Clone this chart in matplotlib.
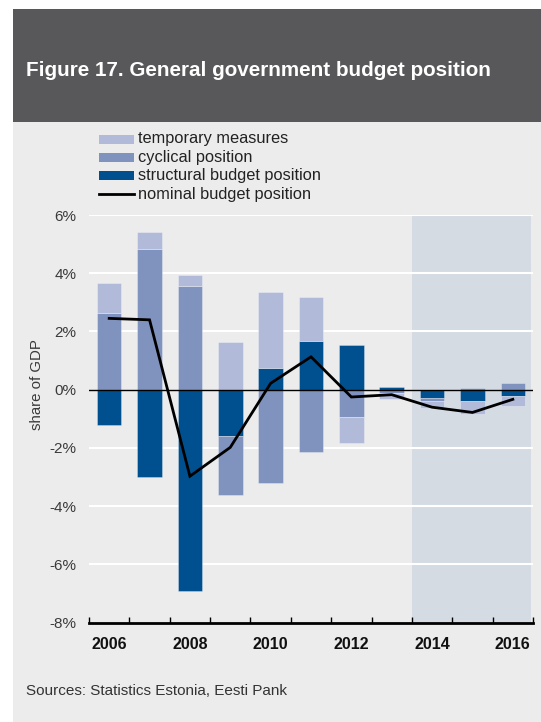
import numpy as np
import matplotlib
matplotlib.use('Agg')
import matplotlib.pyplot as plt
from matplotlib.patches import Rectangle
from matplotlib.lines import Line2D

plt.rcParams['font.family'] = ['Liberation Sans', 'DejaVu Sans']

years = [2006, 2007, 2008, 2009, 2010, 2011, 2012, 2013, 2014, 2015, 2016]
structural = [-1.20, -3.00, -6.90, -1.60, 0.75, 1.67, 1.55, 0.09, -0.30, -0.37, -0.23]
cyclical = [2.62, 4.84, 3.57, -2.00, -3.20, -2.13, -0.94, -0.10, -0.07, 0.06, 0.23]
temporary = [1.05, 0.56, 0.37, 1.63, 2.60, 1.51, -0.89, -0.23, -0.25, -0.46, -0.33]
nominal = [2.45, 2.40, -2.97, -1.98, 0.22, 1.13, -0.25, -0.17, -0.60, -0.78, -0.33]
forecast_from = 2014
year_labels = ['2006', '2008', '2010', '2012', '2014', '2016']
y_ticks = [-8, -6, -4, -2, 0, 2, 4, 6]

c_temp = '#b1bbd9'
c_cyc = '#8092be'
c_struct = '#00508f'
header_col = '#58585a'
panel_col = '#ebeceb'
shade_col = '#d4dbe3'

W, H = 541, 722
fig = plt.figure(figsize=(W / 100, H / 100), dpi=100)
fig.patch.set_facecolor('white')

# background panels
fig.add_artist(Rectangle((13 / W, 0), 1 - 13 / W, 1 - 122 / H, transform=fig.transFigure,
                         facecolor=panel_col, edgecolor='none', zorder=-2))
fig.add_artist(Rectangle((13 / W, 1 - 122 / H), 1 - 13 / W, 113 / H, transform=fig.transFigure,
                         facecolor=header_col, edgecolor='none', zorder=-2))
fig.text(26 / W, 1 - 70 / H, 'Figure 17. General government budget position', color='white',
         fontsize=14.9, fontweight='bold', va='center', ha='left')

ax = fig.add_axes([89 / W, 1 - 622.7 / H, 444 / W, 407.7 / H])
ax.set_facecolor('none')

x = np.arange(len(years))
ax.set_xlim(-0.5, len(years) - 0.5)
ax.set_ylim(-8, 6)

# forecast shading
fx = years.index(forecast_from) - 0.5
ax.axvspan(fx, len(years) - 0.55, color=shade_col, lw=0, zorder=0)

for t in y_ticks:
    if t not in (0, -8):
        ax.axhline(t, color='white', lw=1.5, zorder=1)

# stacked bars, positive and negative parts stacked separately
pos = np.zeros(len(years))
neg = np.zeros(len(years))
bw = 0.61
for vals, col in [(structural, c_struct), (cyclical, c_cyc), (temporary, c_temp)]:
    v = np.array(vals)
    bottom = np.where(v >= 0, pos, neg)
    ax.bar(x, v, bw, bottom=bottom, color=col, edgecolor=(1, 1, 1, 0.35), linewidth=0.6, zorder=2)
    pos = pos + np.where(v >= 0, v, 0)
    neg = neg + np.where(v < 0, v, 0)

ax.axhline(0, color='black', lw=1.0, zorder=3)
ax.plot(x, nominal, color='black', lw=2.0, zorder=4, solid_joinstyle='miter')

for s in ['top', 'right', 'left']:
    ax.spines[s].set_visible(False)
ax.spines['bottom'].set_linewidth(2.0)
ax.spines['bottom'].set_zorder(5)

ax.set_xticks(np.arange(-0.5, len(years), 1.0), minor=True)
ax.set_xticks([years.index(int(y)) for y in year_labels])
ax.set_xticklabels(year_labels, fontsize=11.5, fontweight='bold', color='#111111')
ax.tick_params(axis='x', which='major', length=0, pad=10)
ax.tick_params(axis='x', which='minor', direction='in', length=4, width=1, color='black')

ax.set_yticks(y_ticks)
ax.set_yticklabels([f'{t}%' for t in y_ticks], fontsize=11, color='#3a3a3a')
ax.tick_params(axis='y', length=0, pad=9)

fig.text(37 / W, 1 - 385 / H, 'share of GDP', rotation=90, fontsize=10.8, color='#3a3a3a',
         ha='center', va='center')

# legend
leg_items = [('temporary measures', c_temp, 'patch'), ('cyclical position', c_cyc, 'patch'),
             ('structural budget position', c_struct, 'patch'), ('nominal budget position', 'black', 'line')]
for i, (lab, col, kind) in enumerate(leg_items):
    yc = 139 + i * 18.4
    if kind == 'patch':
        fig.add_artist(Rectangle((99 / W, 1 - (yc + 4.5) / H), 35 / W, 9 / H, transform=fig.transFigure,
                                 facecolor=col, edgecolor='none'))
    else:
        fig.add_artist(Line2D([99 / W, 134 / W], [1 - yc / H, 1 - yc / H], transform=fig.transFigure,
                              color=col, lw=2.0))
    fig.text(137.5 / W, 1 - yc / H, lab, fontsize=11.8, color='#222222', va='center', ha='left')

fig.text(26 / W, 1 - 691 / H, 'Sources: Statistics Estonia, Eesti Pank', fontsize=11,
         color='#333333', va='center', ha='left')

fig.savefig('out.png', dpi=100)
